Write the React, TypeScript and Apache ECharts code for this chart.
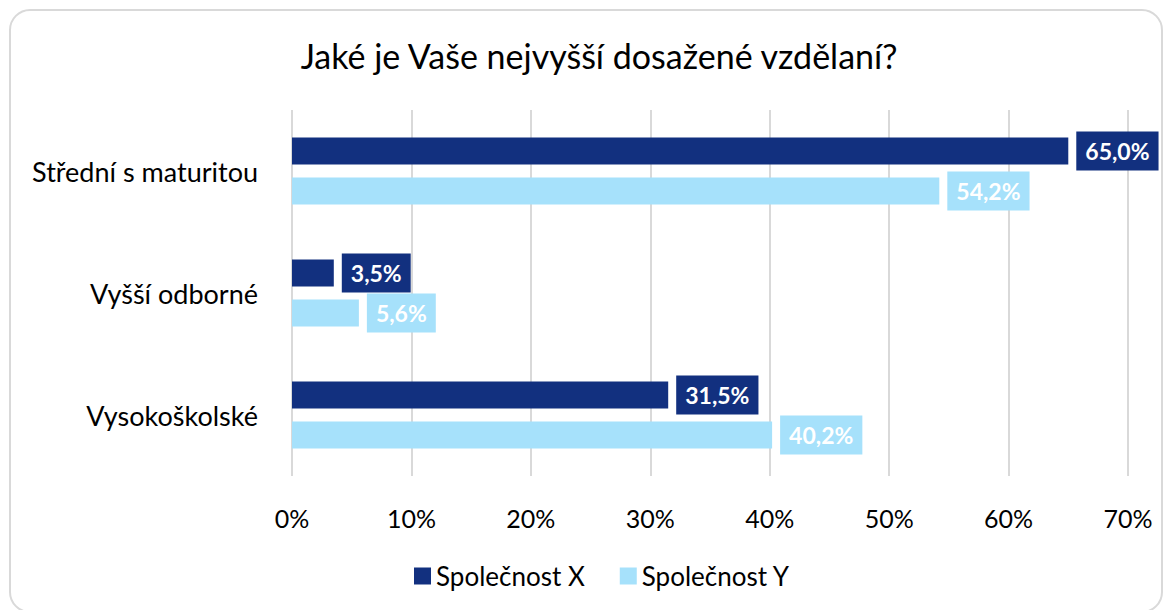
import React, { useEffect, useRef } from "react";
import * as echarts from "echarts";

const categories = ["Střední s maturitou", "Vyšší odborné", "Vysokoškolské"];
const seriesNames = ["Společnost X", "Společnost Y"];
const valuesX = [65.0, 3.5, 31.5];
const valuesY = [54.2, 5.6, 40.2];
const titleText = "Jaké je Vaše nejvyšší dosažené vzdělaní?";

const DARK = "#12307F";
const LIGHT = "#A6E1FB";
const FONT = "Lato, 'Noto Sans', sans-serif";

export default function App() {
  const ref = useRef<HTMLDivElement>(null);
  useEffect(() => {
    if (!ref.current) return;
    const chart = echarts.init(ref.current, null, { renderer: "svg" });
    const fmt = (p: any) => p.value.toFixed(1).replace(".", ",") + "%";
    const label = (color: string) => ({
      show: true,
      position: "right",
      distance: 8,
      formatter: fmt,
      color: "#fff",
      fontWeight: "bold",
      fontSize: 23,
      fontFamily: FONT,
      backgroundColor: color,
      padding: [8, 9, 8, 9],
    });
    chart.setOption({
      animation: false,
      textStyle: { fontFamily: FONT },
      graphic: [
        {
          type: "rect",
          shape: { x: 10, y: 10, width: 1152, height: 602, r: 20 },
          style: { fill: "#fff", stroke: "#d9d9d9", lineWidth: 2 },
          z: -10,
        },
      ],
      title: {
        text: titleText,
        left: 594,
        top: 33,
        textAlign: "center",
        textStyle: { fontSize: 34, fontWeight: "normal", color: "#000", fontFamily: FONT },
      },
      legend: {
        data: seriesNames,
        left: 409,
        top: 558,
        itemWidth: 17,
        itemHeight: 17,
        itemGap: 35,
        icon: "rect",
        textStyle: { fontSize: 26, color: "#000", fontFamily: FONT },
      },
      grid: { left: 292, right: 41, top: 110, height: 366, containLabel: false },
      xAxis: {
        type: "value",
        min: 0,
        max: 70,
        interval: 10,
        axisLabel: { formatter: "{value}%", fontSize: 25, color: "#000", margin: 29, fontFamily: FONT },
        splitLine: { show: true, lineStyle: { color: "#d9d9d9", width: 2 } },
        axisLine: { show: false },
        axisTick: { show: false },
      },
      yAxis: {
        type: "category",
        data: categories,
        inverse: true,
        axisLabel: { fontSize: 27, color: "#000", margin: 34, fontFamily: FONT },
        axisLine: { show: false },
        axisTick: { show: false },
      },
      series: [
        {
          name: seriesNames[0],
          type: "bar",
          data: valuesX,
          barWidth: 27,
          barGap: "48%",
          itemStyle: { color: DARK },
          label: label(DARK),
        },
        {
          name: seriesNames[1],
          type: "bar",
          data: valuesY,
          barWidth: 27,
          itemStyle: { color: LIGHT },
          label: label(LIGHT),
        },
      ],
    });
    return () => chart.dispose();
  }, []);
  return (
    <div
      ref={ref}
      style={{ position: "fixed", left: 0, top: 0, width: 1169, height: 610, background: "#fff" }}
    />
  );
}
